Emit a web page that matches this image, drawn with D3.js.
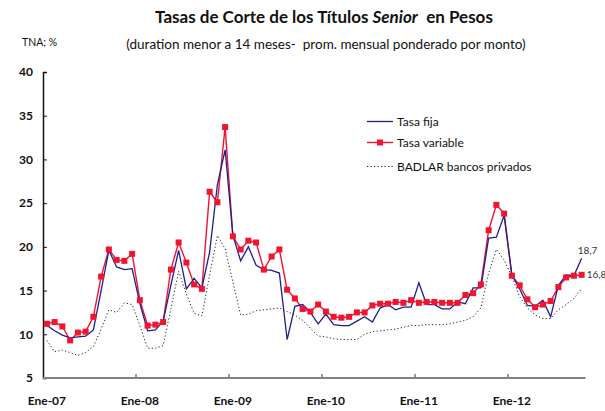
<!DOCTYPE html>
<html>
<head>
<meta charset="utf-8">
<script src="https://cdn.jsdelivr.net/npm/d3@7"></script>
<style>
  html, body { margin: 0; padding: 0; background: #fff; }
  svg { display: block; font-family: Lato, "Open Sans", sans-serif; }
  svg text { white-space: pre; }
</style>
</head>
<body>
<svg id="chart" width="605" height="411"></svg>
<script>
// Monthly categories, Jan 2007 – Oct 2012
const monthNames = ["Ene","Feb","Mar","Abr","May","Jun","Jul","Ago","Sep","Oct","Nov","Dic"];
const years = ["07","08","09","10","11","12"];
const months = [];
years.forEach(y => monthNames.forEach(m => months.push(m + "-" + y)));
months.splice(70);

const yTicks = [5, 10, 15, 20, 25, 30, 35, 40];
const xTickLabels = ["Ene-07","Ene-08","Ene-09","Ene-10","Ene-11","Ene-12"];

// Tasa fija (% TNA)
const tasaFija = [
  11.0, 10.4, 9.9, 9.6, 9.7, 9.8, 10.5, 15.0, 19.6, 17.7, 17.4, 17.5,
  13.5, 10.4, 10.5, 11.5, 15.6, 19.6, 15.2, 16.4, 15.3, 19.4, 27.1, 31.1,
  21.3, 18.4, 20.0, 17.9, 17.4, 17.3, 17.0, 9.4, 13.2, 13.4, 12.5, 11.2,
  12.3, 11.1, 11.0, 11.0, 11.5, 12.0, 11.4, 13.0, 13.4, 12.8, 13.1, 13.1,
  15.9, 13.4, 13.4, 12.9, 12.9, 13.7, 13.5, 15.3, 15.3, 21.0, 21.1, 23.6,
  16.8, 15.2, 13.3, 13.2, 13.9, 12.0, 15.6, 16.8, 16.7, 18.7
];

// Tasa variable (% TNA)
const tasaVariable = [
  11.2, 11.4, 10.9, 9.3, 10.2, 10.3, 12.0, 16.6, 19.7, 18.5, 18.4, 19.2,
  13.9, 11.0, 11.1, 11.4, 17.4, 20.5, 18.2, 15.7, 15.2, 26.3, 25.1, 33.7,
  21.2, 19.7, 20.7, 20.5, 17.4, 18.9, 19.7, 15.1, 14.1, 12.9, 12.6, 13.4,
  12.6, 12.0, 11.9, 12.0, 12.5, 12.5, 13.3, 13.5, 13.5, 13.7, 13.6, 13.9,
  13.6, 13.7, 13.7, 13.6, 13.6, 13.6, 14.5, 14.7, 15.7, 21.9, 24.8, 23.8,
  16.7, 15.6, 14.0, 13.1, 13.4, 13.8, 15.4, 16.5, 16.7, 16.8
];

// BADLAR bancos privados (% TNA)
const badlar = [
  9.3, 8.0, 8.2, 7.9, 7.6, 7.9, 8.6, 10.6, 12.8, 12.5, 13.6, 13.4,
  11.0, 8.4, 8.4, 8.7, 12.9, 17.2, 14.6, 12.4, 12.1, 16.8, 21.3, 19.8,
  16.0, 12.2, 12.3, 12.7, 12.8, 12.9, 13.0, 12.6, 12.2, 11.6, 10.7, 9.8,
  9.7, 9.5, 9.4, 9.4, 9.4, 10.0, 10.3, 10.4, 10.5, 10.6, 10.8, 11.0,
  11.0, 11.1, 11.1, 11.1, 11.2, 11.4, 11.6, 12.0, 13.0, 17.0, 19.7, 18.5,
  16.6, 14.3, 13.0, 12.2, 11.8, 11.8, 12.8, 13.4, 14.1, 15.2
];

const seriesNames = ["Tasa fija", "Tasa variable", "BADLAR bancos privados"];

const BLUE = "#1c1f8f";
const RED = "#f2132e";

const svg = d3.select("#chart");
const x = d3.scaleBand().domain(months).range([43, 585.5]).paddingInner(0).paddingOuter(0);
const y = d3.scaleLinear().domain([5, 40]).range([378, 72]);
const cx = m => x(m) + x.bandwidth() / 2;

// Titles
svg.append("text").attr("x", 324).attr("y", 23).attr("text-anchor", "middle")
  .attr("font-size", 17).attr("font-weight", "bold").attr("fill", "#111")
  .call(t => {
    t.append("tspan").text("Tasas de Corte de los Títulos ");
    t.append("tspan").attr("font-style", "italic").text("Senior");
    t.append("tspan").text("  en Pesos");
  });
svg.append("text").attr("x", 326).attr("y", 49).attr("text-anchor", "middle")
  .attr("font-size", 13.5).attr("fill", "#111")
  .text("(duration menor a 14 meses-  prom. mensual ponderado por monto)");
svg.append("text").attr("x", 22).attr("y", 46).attr("font-size", 10.5).attr("fill", "#111")
  .text("TNA; %");

// Y axis
const yAxis = svg.append("g").attr("transform", "translate(43,0)")
  .call(d3.axisRight(y).tickValues(yTicks).tickSize(4).tickFormat(d3.format("d")));
yAxis.select(".domain").attr("stroke", "#111").attr("stroke-width", 1.5);
yAxis.selectAll(".tick line").attr("stroke", "#111");
yAxis.selectAll(".tick text").attr("x", -10).attr("text-anchor", "end")
  .attr("font-size", 12).attr("font-weight", "bold").attr("fill", "#111")
  .attr("font-family", "Lato, sans-serif");

// X axis: ticks at year boundaries, labels centred on January
const xg = svg.append("g");
xg.append("line").attr("x1", 43).attr("x2", 585.5).attr("y1", 378).attr("y2", 378)
  .attr("stroke", "#808080").attr("stroke-width", 2);
xg.selectAll("line.tk").data(xTickLabels.slice(1)).join("line").attr("class", "tk")
  .attr("x1", d => x(d)).attr("x2", d => x(d)).attr("y1", 377).attr("y2", 374)
  .attr("stroke", "#333").attr("stroke-width", 1);
xg.selectAll("text").data(xTickLabels).join("text")
  .attr("x", d => cx(d)).attr("y", 405).attr("text-anchor", "middle")
  .attr("font-size", 12).attr("font-weight", "bold").attr("fill", "#111")
  .text(d => d);

// Lines
const line = vals => d3.line().x((d, i) => cx(months[i])).y(d => y(d))(vals);

svg.append("path").attr("d", line(badlar)).attr("fill", "none")
  .attr("stroke", "#222").attr("stroke-width", 1).attr("stroke-dasharray", "1.2,2.3");
svg.append("path").attr("d", line(tasaVariable)).attr("fill", "none")
  .attr("stroke", RED).attr("stroke-width", 1.4);
svg.append("path").attr("d", line(tasaFija)).attr("fill", "none")
  .attr("stroke", BLUE).attr("stroke-width", 1.3);
svg.append("g").selectAll("rect").data(tasaVariable).join("rect")
  .attr("x", (d, i) => cx(months[i]) - 3).attr("y", d => y(d) - 3)
  .attr("width", 6).attr("height", 6).attr("fill", RED);

// End-of-series value labels
const fmt = v => d3.format(".1f")(v).replace(".", ",");
const last = months.length - 1;
svg.append("text").attr("x", cx(months[last]) - 4).attr("y", y(tasaFija[last]) - 4)
  .attr("font-size", 10).attr("fill", "#333").text(fmt(tasaFija[last]));
svg.append("text").attr("x", cx(months[last]) + 5).attr("y", y(tasaVariable[last]) + 3.5)
  .attr("font-size", 10).attr("fill", "#333").text(fmt(tasaVariable[last]));

// Legend
const lg = svg.append("g").attr("font-size", 12).attr("fill", "#111");
const ly = [121.5, 142.5, 166.5];
lg.append("line").attr("x1", 367).attr("x2", 393).attr("y1", ly[0]).attr("y2", ly[0])
  .attr("stroke", BLUE).attr("stroke-width", 1.3);
lg.append("line").attr("x1", 367).attr("x2", 393).attr("y1", ly[1]).attr("y2", ly[1])
  .attr("stroke", RED).attr("stroke-width", 1.4);
lg.append("rect").attr("x", 377).attr("y", ly[1] - 3).attr("width", 6).attr("height", 6).attr("fill", RED);
lg.append("line").attr("x1", 367).attr("x2", 393).attr("y1", ly[2]).attr("y2", ly[2])
  .attr("stroke", "#222").attr("stroke-width", 1).attr("stroke-dasharray", "1.2,2.3");
lg.selectAll("text").data(seriesNames).join("text")
  .attr("x", 397).attr("y", (d, i) => ly[i] + 4.5).text(d => d);
</script>
</body>
</html>
